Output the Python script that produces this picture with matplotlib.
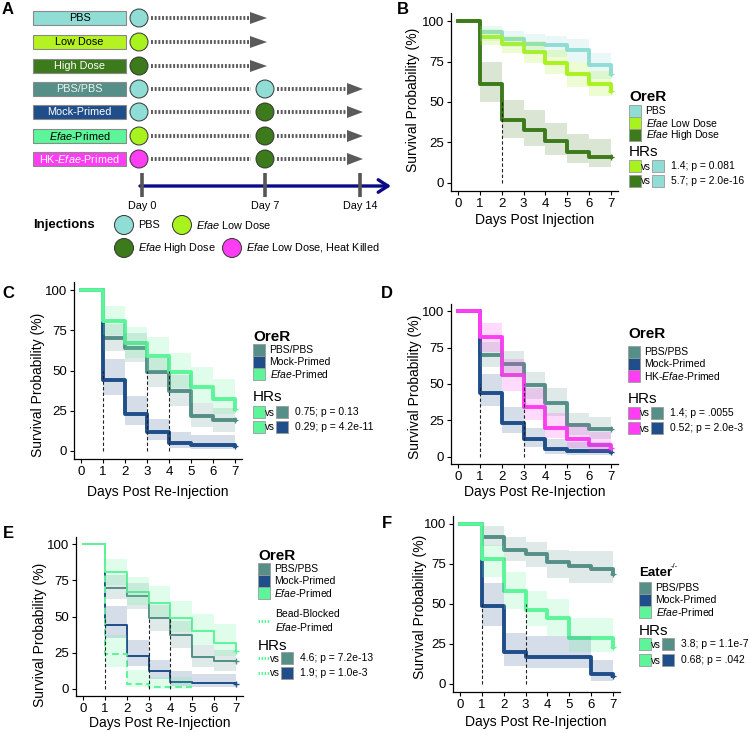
import matplotlib
matplotlib.use("Agg")
import matplotlib.pyplot as plt
from matplotlib.patches import Rectangle, Circle, Polygon

plt.rcParams['font.family'] = ['Liberation Sans', 'DejaVu Sans']
plt.rcParams['mathtext.fontset'] = 'custom'
plt.rcParams['mathtext.rm'] = 'Liberation Sans'
plt.rcParams['mathtext.it'] = 'Liberation Sans:italic'
plt.rcParams['mathtext.bf'] = 'Liberation Sans:bold'

# colours
C_PBS = '#8FDDD4'
C_LOW = '#A8F21E'
C_HIGH = '#3D7A1C'
C_PBS2 = '#558F87'
C_MOCK = '#1F4E8A'
C_EFAE = '#5CF59A'
C_HK = '#FF3DF2'

# ---- panel A schematic ----
groups = ['PBS', 'Low Dose', 'High Dose', 'PBS/PBS', 'Mock-Primed',
          r'$\it{Efae}$-Primed', r'HK-$\it{Efae}$-Primed']
group_colors = [C_PBS, '#B5F222', C_HIGH, C_PBS2, C_MOCK, C_EFAE, C_HK]
group_text = ['black', 'black', 'white', '#eef4f3', 'white', 'black', 'white']
inj_day0 = [C_PBS, C_LOW, C_HIGH, C_PBS, C_PBS, C_LOW, C_HK]
inj_day7 = [None, None, None, C_PBS, C_HIGH, C_HIGH, C_HIGH]
timeline_days = [0, 7, 14]
inj_legend = ['PBS', r'$\it{Efae}$ Low Dose', r'$\it{Efae}$ High Dose',
              r'$\it{Efae}$ Low Dose, Heat Killed']
inj_legend_colors = [C_PBS, C_LOW, C_HIGH, C_HK]

# ---- survival data (%), steps at days 0..7 ----
days = [0, 1, 2, 3, 4, 5, 6, 7]

# B
pbs_B = [100, 93, 89, 86, 85, 82, 73, 67]
pbs_B_lo = [100, 88, 84, 80, 78, 75, 64, 64]
pbs_B_hi = [100, 97, 94, 92, 91, 89, 80, 80]
low_B = [100, 90, 86, 81, 74, 67, 61, 57]
low_B_lo = [100, 85, 80, 74, 67, 59, 54, 54]
low_B_hi = [100, 95, 91, 88, 82, 75, 69, 69]
high_B = [100, 61, 39, 33, 26, 19, 16, 16]
high_B_lo = [100, 50, 28, 23, 17, 12, 10, 10]
high_B_hi = [100, 75, 51, 45, 37, 30, 27, 27]
med_B = [2]

# OreR re-injection (C, D, E)
pbs2 = [100, 70, 64, 49, 37, 22, 19, 19]
pbs2_lo = [100, 62, 55, 40, 28, 15, 12, 12]
pbs2_hi = [100, 79, 73, 58, 47, 30, 27, 27]
mock = [100, 44, 23, 12, 5, 4, 4, 3]
mock_lo = [100, 35, 16, 7, 2, 1, 1, 1]
mock_hi = [100, 57, 34, 20, 12, 10, 10, 10]
efae = [100, 81, 67, 59, 49, 40, 32, 26]
efae_lo = [100, 72, 58, 50, 39, 30, 23, 23]
efae_hi = [100, 90, 77, 71, 61, 52, 45, 45]
med_C = [1, 3, 4]

hk = [100, 82, 56, 34, 20, 12, 8, 6]
hk_lo = [100, 72, 45, 25, 13, 6, 3, 3]
hk_hi = [100, 92, 67, 47, 30, 22, 17, 17]
med_D = [1, 3]

bead = [100, 24, 3, 1, 1, 1]
bead_lo = [100, 15, 1, 0, 0, 0]
bead_hi = [100, 37, 13, 8, 8, 8]
med_E = [1, 3, 4]

# F (Eater-/-)
pbsF = [100, 92, 84, 81, 76, 74, 72, 69]
pbsF_lo = [100, 86, 77, 73, 66, 63, 63, 63]
pbsF_hi = [100, 99, 92, 89, 84, 83, 83, 83]
mockF = [100, 49, 20, 17, 17, 17, 6, 5]
mockF_lo = [100, 36, 11, 10, 10, 10, 2, 2]
mockF_hi = [100, 63, 32, 30, 30, 30, 15, 15]
efaeF = [100, 78, 58, 46, 41, 29, 29, 23]
efaeF_lo = [100, 67, 47, 36, 30, 20, 20, 20]
efaeF_hi = [100, 87, 70, 58, 53, 41, 41, 41]
med_F = [1, 3]

hr_B = ['1.4; p = 0.081', '5.7; p = 2.0e-16']
hr_C = ['0.75; p = 0.13', '0.29; p = 4.2e-11']
hr_D = ['1.4; p = .0055', '0.52; p = 2.0e-3']
hr_E = ['4.6; p = 7.2e-13', '1.9; p = 1.0e-3']
hr_F = ['3.8; p = 1.1e-7', '0.68; p = .042']

W, H = 750, 732
fig = plt.figure(figsize=(W / 100, H / 100), dpi=100)

# overlay axes in pixel coordinates for schematic, legends, labels
ov = fig.add_axes([0, 0, 1, 1])
ov.set_xlim(0, W)
ov.set_ylim(H, 0)
ov.axis('off')


def px_ax(l, t, r, b):
    return fig.add_axes([l / W, 1 - b / H, (r - l) / W, (b - t) / H])


def style_ax(ax):
    ax.set_xlim(-0.32, 7.32)
    ax.set_ylim(-5, 105)
    ax.set_xticks(days)
    ax.set_yticks([0, 25, 50, 75, 100])
    for s in ['top', 'right']:
        ax.spines[s].set_visible(False)
    for s in ['left', 'bottom']:
        ax.spines[s].set_linewidth(0.9)
    ax.tick_params(length=3, width=0.8, labelsize=9.5, pad=2)
    ax.patch.set_alpha(0)


def km(ax, y, lo, hi, color, lw=2.8, ls='-', cens=True):
    x = days[:len(y)]
    ax.step(x, y, where='post', color=color, lw=lw, ls=ls, zorder=2)
    ax.fill_between(x, lo, hi, step='post', color=color, alpha=0.19, lw=0, zorder=3)
    if cens:
        ax.plot(x[-1], y[-1], marker='+', ms=5, mew=1, color=color, zorder=4)


def medians(ax, meds):
    for m in meds:
        ax.plot([m, m], [0, 50], color='#222222', lw=0.8, ls=(0, (3, 2)), zorder=5)


def key(x, yc, color, size=12):
    ov.add_patch(Rectangle((x, yc - size / 2), size, size, facecolor=color,
                           edgecolor='#9a9a9a', lw=0.6))


def dash_key(x, yc, color):
    ov.plot([x, x + 12], [yc, yc], color=color, lw=2.2, ls=(0, (0.5, 0.5)))


def legend(x, ty, title, rows, labels, colors, hy, hrows, hkeys, htexts):
    if title is not None:
        ov.text(x, ty, title, fontsize=11, fontweight='bold', va='center')
    for yc, lab, c in zip(rows, labels, colors):
        key(x, yc, c)
        ov.text(x + 16.5, yc, lab, fontsize=7.5, va='center')
    ov.text(x, hy, 'HRs', fontsize=11, va='center')
    for yc, (k1, k2), t in zip(hrows, hkeys, htexts):
        if k1 == 'dash':
            dash_key(x, yc, C_EFAE)
        else:
            key(x, yc, k1)
        ov.text(x + 12.3, yc + 0.5, 'vs', fontsize=7, va='center')
        key(x + 23, yc, k2)
        ov.text(x + 42, yc, t, fontsize=7.5, va='center')


def labels(ax_cx, xl_y, xlabel, yl_x, yl_cy):
    ov.text(ax_cx, xl_y, xlabel, fontsize=10, ha='center', va='center')
    ov.text(yl_x, yl_cy, 'Survival Probability (%)', fontsize=10, rotation=90,
            ha='center', va='center')


# ---------------- Panel A ----------------
row_y = [18, 42, 66, 89, 112, 136, 159]
x_day = {0: 142, 7: 265, 14: 360}
for yc, g, gc, tc, c0, c7 in zip(row_y, groups, group_colors, group_text, inj_day0, inj_day7):
    ov.add_patch(Rectangle((33, yc - 7), 93, 14, facecolor=gc, edgecolor='#8a8a8a', lw=0.8))
    ov.text(79.5, yc, g, fontsize=7.8, color=tc, ha='center', va='center')
    ov.add_patch(Circle((139, yc), 9, facecolor=c0, edgecolor='#333333', lw=0.7, zorder=3))
    if c7 is None:
        segs = [(151, 251, 267)]
    else:
        ov.add_patch(Circle((265, yc), 9, facecolor=c7, edgecolor='#333333', lw=0.7, zorder=3))
        segs = [(151, 251, 0), (277, 348, 363)]
    for x0, x1, tip in segs:
        ov.plot([x0, x1], [yc, yc], color='#5a5a5a', lw=2.8, ls=(0, (0.5, 0.45)),
                solid_capstyle='butt', dash_capstyle='butt')
        if tip:
            ov.add_patch(Polygon([(x1 - 1, yc - 6), (tip, yc), (x1 - 1, yc + 6)],
                                 closed=True, facecolor='#5a5a5a', edgecolor='none'))

ov.annotate('', xy=(391, 186), xytext=(140, 186),
            arrowprops=dict(arrowstyle='->,head_length=0.7,head_width=0.45',
                            color='#0B0B85', lw=2.4, shrinkA=0, shrinkB=0))
for d in timeline_days:
    ov.plot([x_day[d], x_day[d]], [173, 197], color='#555555', lw=2.6,
            solid_capstyle='butt', zorder=4)
    ov.text(x_day[d], 206, f'Day {d}', fontsize=7.8, ha='center', va='center')

ov.text(33, 225, 'Injections', fontsize=9.5, fontweight='bold', va='center')
inj_pos = [(124, 225), (182, 225), (124, 248), (232, 248)]
for (cx, cy), lab, c in zip(inj_pos, inj_legend, inj_legend_colors):
    ov.add_patch(Circle((cx, cy), 9.5, facecolor=c, edgecolor='#333333', lw=0.7))
    ov.text(cx + 14, cy, lab, fontsize=7.8, va='center')

# ---------------- Panel B ----------------
axB = px_ax(451, 13, 618, 191)
style_ax(axB)
km(axB, pbs_B, pbs_B_lo, pbs_B_hi, C_PBS)
km(axB, low_B, low_B_lo, low_B_hi, C_LOW)
km(axB, high_B, high_B_lo, high_B_hi, C_HIGH)
medians(axB, med_B)
labels(535, 220, 'Days Post Injection', 413, 100)
legend(629, 97, 'OreR', [111, 123, 135],
       ['PBS', r'$\it{Efae}$ Low Dose', r'$\it{Efae}$ High Dose'],
       [C_PBS, C_LOW, C_HIGH], 152, [166, 181],
       [(C_LOW, C_PBS), (C_HIGH, C_PBS)], hr_B)

# ---------------- Panel C ----------------
axC = px_ax(74, 282, 242, 459)
style_ax(axC)
km(axC, pbs2, pbs2_lo, pbs2_hi, C_PBS2)
km(axC, mock, mock_lo, mock_hi, C_MOCK)
km(axC, efae, efae_lo, efae_hi, C_EFAE)
medians(axC, med_C)
labels(158, 492, 'Days Post Re-Injection', 38, 385)
legend(253, 337, 'OreR', [350, 362, 374],
       ['PBS/PBS', 'Mock-Primed', r'$\it{Efae}$-Primed'],
       [C_PBS2, C_MOCK, C_EFAE], 397, [412, 427],
       [(C_EFAE, C_PBS2), (C_EFAE, C_MOCK)], hr_C)

# ---------------- Panel D ----------------
axD = px_ax(451, 304, 618, 464)
style_ax(axD)
km(axD, pbs2, pbs2_lo, pbs2_hi, C_PBS2)
km(axD, mock, mock_lo, mock_hi, C_MOCK)
km(axD, hk, hk_lo, hk_hi, C_HK)
medians(axD, med_D)
labels(535, 492, 'Days Post Re-Injection', 415, 387)
legend(628, 334, 'OreR', [352, 364, 376],
       ['PBS/PBS', 'Mock-Primed', r'HK-$\it{Efae}$-Primed'],
       [C_PBS2, C_MOCK, C_HK], 399, [413, 428],
       [(C_HK, C_PBS2), (C_HK, C_MOCK)], hr_D)

# ---------------- Panel E ----------------
axE = px_ax(76, 537, 243, 696)
style_ax(axE)
km(axE, pbs2, pbs2_lo, pbs2_hi, C_PBS2, lw=1.4)
km(axE, mock, mock_lo, mock_hi, C_MOCK, lw=1.4)
km(axE, efae, efae_lo, efae_hi, C_EFAE, lw=1.4)
km(axE, bead, bead_lo, bead_hi, C_EFAE, lw=1.4, ls=(0, (3.5, 2)), cens=False)
medians(axE, med_E)
labels(160, 723, 'Days Post Re-Injection', 40, 635)
legend(258, 556, 'OreR', [569, 581, 593],
       ['PBS/PBS', 'Mock-Primed', r'$\it{Efae}$-Primed'],
       [C_PBS2, C_MOCK, C_EFAE], 646, [658, 673],
       [('dash', C_PBS2), ('dash', C_MOCK)], hr_E)
dash_key(258, 621, C_EFAE)
ov.text(275, 614, 'Bead-Blocked', fontsize=7.5, va='center')
ov.text(275, 627, r'$\it{Efae}$-Primed', fontsize=7.5, va='center')

# ---------------- Panel F ----------------
axF = px_ax(453, 516, 620, 692)
style_ax(axF)
km(axF, pbsF, pbsF_lo, pbsF_hi, C_PBS2)
km(axF, mockF, mockF_lo, mockF_hi, C_MOCK)
km(axF, efaeF, efaeF_lo, efaeF_hi, C_EFAE)
medians(axF, med_F)
labels(536, 722, 'Days Post Re-Injection', 420, 607)
legend(639, 572, None, [588, 600, 612],
       ['PBS/PBS', 'Mock-Primed', r'$\it{Efae}$-Primed'],
       [C_PBS2, C_MOCK, C_EFAE], 631, [644, 660],
       [(C_EFAE, C_PBS2), (C_EFAE, C_MOCK)], hr_F)
ov.text(639, 573, 'Eater', fontsize=9.5, fontweight='bold', va='center')
ov.text(671, 567, '-/-', fontsize=5.5, va='center')

# panel letters
for lab, (x, y) in zip('ABCDEF', [(8, 10), (403, 10), (8, 293), (387, 293), (8, 533), (387, 523)]):
    ov.text(x, y, lab, fontsize=12, fontweight='bold', ha='center', va='center')

fig.savefig('out.png', dpi=100)
